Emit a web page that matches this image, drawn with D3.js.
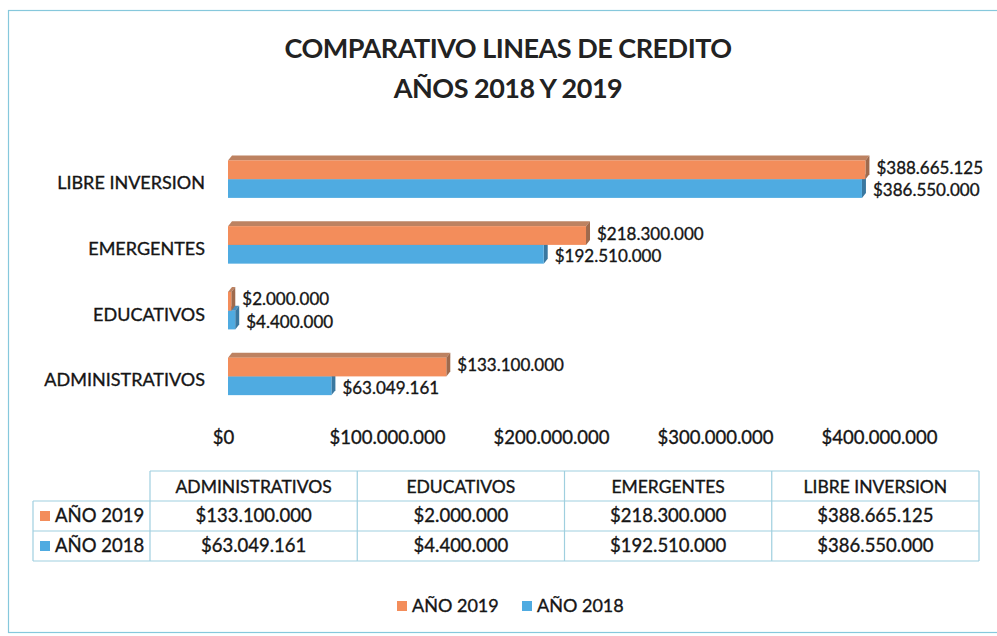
<!DOCTYPE html>
<html>
<head>
<meta charset="utf-8">
<script src="https://cdn.jsdelivr.net/npm/d3@7"></script>
<style>
  html, body { margin: 0; padding: 0; background: #ffffff; }
  svg { display: block; font-family: Lato, "Open Sans", sans-serif; }
  .t { stroke: #151515; stroke-width: 0.35px; paint-order: stroke; }
</style>
</head>
<body>
<svg id="chart" width="997" height="636"></svg>
<script>
// Credit lines compared across two years
const categories = ["ADMINISTRATIVOS", "EDUCATIVOS", "EMERGENTES", "LIBRE INVERSION"];
const seriesNames = ["AÑO 2019", "AÑO 2018"];
const values2019 = [133100000, 2000000, 218300000, 388665125];
const values2018 = [63049161, 4400000, 192510000, 386550000];
const axisTicks = [0, 100000000, 200000000, 300000000, 400000000];
const titleLines = ["COMPARATIVO LINEAS DE CREDITO", "AÑOS 2018 Y 2019"];

const palette = {
  "AÑO 2019": { front: "#f38d5b", top: "#bd8261", side: "#9e6a4d" },
  "AÑO 2018": { front: "#4fabe1", top: "#4a8fbd", side: "#3a78a0" }
};

const seriesValues = { "AÑO 2019": values2019, "AÑO 2018": values2018 };
const rows = categories.map((c, i) => ({
  category: c,
  "AÑO 2019": values2019[i],
  "AÑO 2018": values2018[i]
}));

const locale = d3.formatLocale({ decimal: ",", thousands: ".", grouping: [3], currency: ["$", ""] });
const money = locale.format("$,.0f");

const svg = d3.select("#chart");
const ink = "#151515";

// chart frame
svg.append("rect")
  .attr("x", 8.5).attr("y", 10.5).attr("width", 1000).attr("height", 622)
  .attr("fill", "#ffffff").attr("stroke", "#86c8dc").attr("stroke-width", 1.2);

// title
svg.append("g").selectAll("text").data(titleLines).join("text")
  .attr("x", 508).attr("y", (d, i) => 58 + i * 40)
  .attr("text-anchor", "middle")
  .attr("font-size", 27).attr("font-weight", 700).attr("fill", "#222")
  .attr("letter-spacing", -0.5)
  .text(d => d);

// scales
const x = d3.scaleLinear().domain([0, 400000000]).range([228, 884]);
const y0 = d3.scaleBand().domain(categories.slice().reverse()).range([150, 413]).padding(0);
const y1 = d3.scaleBand().domain(seriesNames).range([10.4, 47.9]).padding(0);
const dx = 4, dy = 5;

// category labels
svg.append("g").selectAll("text").data(categories).join("text")
  .attr("class", "t")
  .attr("x", 205).attr("y", d => y0(d) + y0.bandwidth() / 2)
  .attr("dy", "0.35em").attr("text-anchor", "end")
  .attr("font-size", 18).attr("fill", ink)
  .text(d => d);

// bars, drawn lower series first so the upper one overlaps its top face
const barsG = svg.append("g");
["AÑO 2018", "AÑO 2019"].forEach(s => {
  const g = barsG.append("g");
  rows.forEach(r => {
    const x0 = x(0), x1 = x(r[s]);
    const yt = y0(r.category) + y1(s), h = y1.bandwidth();
    const col = palette[s];
    g.append("path")
      .attr("d", `M${x0},${yt} L${x0 + dx},${yt - dy} L${x1 + dx},${yt - dy} L${x1},${yt} Z`)
      .attr("fill", col.top);
    g.append("path")
      .attr("d", `M${x1},${yt} L${x1 + dx},${yt - dy} L${x1 + dx},${yt + h - dy} L${x1},${yt + h} Z`)
      .attr("fill", col.side);
    g.append("rect")
      .attr("x", x0).attr("y", yt).attr("width", x1 - x0).attr("height", h)
      .attr("fill", col.front);
  });
});

// value labels, nudged apart so the two lines of a pair do not collide
const labelShift = { "AÑO 2019": -1.8, "AÑO 2018": 1.8 };
const labelsG = svg.append("g");
seriesNames.forEach(s => {
  labelsG.selectAll(null).data(rows).join("text")
    .attr("class", "t")
    .attr("x", d => x(d[s]) + dx + 7)
    .attr("y", d => y0(d.category) + y1(s) + y1.bandwidth() / 2 + labelShift[s])
    .attr("dy", "0.35em")
    .attr("font-size", 17).attr("fill", ink)
    .text(d => money(d[s]));
});

// value axis (labels only)
const axis = d3.axisBottom(x).tickValues(axisTicks).tickFormat(money).tickSize(0).tickPadding(0);
const axisG = svg.append("g").attr("transform", "translate(-5,431)").call(axis);
axisG.select(".domain").remove();
axisG.selectAll("text").attr("class", "t")
  .attr("font-size", 18.5).attr("fill", ink).attr("font-family", "Lato, sans-serif");

// data table
const colX = d3.scaleBand().domain(categories).range([150, 979]);
const rowY = d3.scaleBand().domain(["header"].concat(seriesNames)).range([471, 561]);
const tableG = svg.append("g");
const line = "#9fcfdf";

// horizontal rules
tableG.append("line").attr("x1", 150).attr("x2", 979).attr("y1", 471).attr("y2", 471);
seriesNames.forEach(s => {
  tableG.append("line").attr("x1", 33).attr("x2", 979).attr("y1", rowY(s)).attr("y2", rowY(s));
});
tableG.append("line").attr("x1", 33).attr("x2", 979).attr("y1", 561).attr("y2", 561);
// vertical rules
tableG.append("line").attr("x1", 33).attr("x2", 33).attr("y1", rowY(seriesNames[0])).attr("y2", 561);
categories.concat(["end"]).forEach((c, i) => {
  const xv = i < categories.length ? colX(c) : 979;
  tableG.append("line").attr("x1", xv).attr("x2", xv).attr("y1", 471).attr("y2", 561);
});
tableG.selectAll("line").attr("stroke", line).attr("stroke-width", 1.2);

// header cells
tableG.selectAll(null).data(categories).join("text")
  .attr("class", "t")
  .attr("x", d => colX(d) + colX.bandwidth() / 2)
  .attr("y", rowY("header") + rowY.bandwidth() / 2 + 1)
  .attr("dy", "0.35em").attr("text-anchor", "middle")
  .attr("font-size", 17.5).attr("fill", ink)
  .text(d => d);

// body cells and row keys
seriesNames.forEach(s => {
  const cy = rowY(s) + rowY.bandwidth() / 2;
  tableG.append("rect").attr("x", 40).attr("y", cy - 5).attr("width", 10).attr("height", 10)
    .attr("fill", palette[s].front);
  tableG.append("text").attr("class", "t").attr("x", 55).attr("y", cy).attr("dy", "0.35em")
    .attr("font-size", 18.5).attr("fill", ink).text(s);
  tableG.selectAll(null).data(categories).join("text")
    .attr("class", "t")
    .attr("x", d => colX(d) + colX.bandwidth() / 2)
    .attr("y", cy).attr("dy", "0.35em").attr("text-anchor", "middle")
    .attr("font-size", 18.5).attr("fill", ink)
    .text((d, i) => money(seriesValues[s][i]));
});

// legend
const legendItems = [{ name: "AÑO 2019", x: 397 }, { name: "AÑO 2018", x: 522 }];
const lg = svg.append("g");
legendItems.forEach(it => {
  lg.append("rect").attr("x", it.x).attr("y", 601).attr("width", 10).attr("height", 10)
    .attr("fill", palette[it.name].front);
  lg.append("text").attr("class", "t").attr("x", it.x + 15).attr("y", 606).attr("dy", "0.35em")
    .attr("font-size", 18).attr("fill", ink).text(it.name);
});
</script>
</body>
</html>
